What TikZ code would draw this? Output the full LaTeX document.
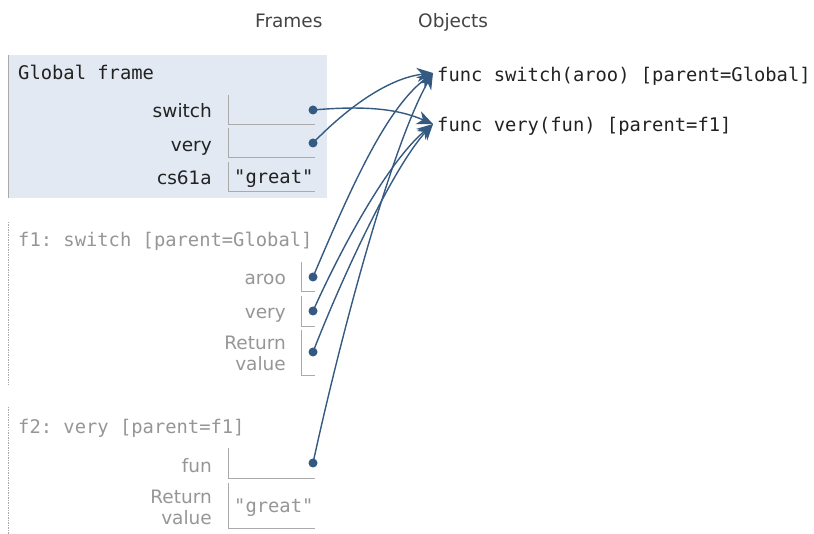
\documentclass[tikz,border=0pt]{standalone}
\usepackage{fontspec}
\setmainfont{DejaVu Sans}
\setmonofont{DejaVu Sans Mono}
\usetikzlibrary{arrows.meta}
\definecolor{gfill}{RGB}{226,233,243}
\definecolor{lgray}{RGB}{170,170,170}
\definecolor{tgray}{RGB}{150,150,150}
\definecolor{ptr}{RGB}{52,90,130}
\definecolor{hdr}{RGB}{68,68,68}
\definecolor{dark}{RGB}{34,34,34}
\begin{document}
\begin{tikzpicture}[x=1pt,y=-1pt,
  lab/.style={font=\fontsize{18.5}{20}\selectfont, anchor=base east, inner sep=0pt, text=dark},
  glab/.style={lab, text=tgray},
  code/.style={font=\ttfamily\fontsize{18.8}{20}\selectfont, anchor=base west, inner sep=0pt, text=dark},
  gcode/.style={code, text=tgray},
  hdrtext/.style={font=\fontsize{18.5}{20}\selectfont, anchor=base west, inner sep=0pt, text=hdr},
  vbox/.style={draw=lgray, line width=1pt},
  border/.style={draw=lgray, line width=0.8pt, dash pattern=on 1.5pt off 1pt},
  ptrline/.style={draw=ptr, line width=1.4pt, -{Stealth[length=16pt,width=14pt,inset=5pt]}},
  dot/.style={fill=ptr}
]
\useasboundingbox (0,0) rectangle (814,534);

% headers
\node[hdrtext] (hframes) at (255,28) {Frames};
\node[hdrtext] (hobjects) at (418,28) {Objects};

% Global frame
\fill[gfill] (8,55) rectangle (327,198);
\draw[lgray, line width=0.8pt] (8,55) -- (8,198);
\node[code] (gtitle) at (18,80) {Global frame};
\node[lab] (gswitch) at (212,118) {switch};
\node[lab] (gvery) at (212,152) {very};
\node[lab] (gcs) at (212,185) {cs61a};
\draw[vbox] (228,95) |- (315,125);
\draw[vbox] (228,128) |- (315,158);
\draw[vbox] (228,162) |- (315,192);
\node[code] (ggreat) at (234,184) {"great"};

% f1 frame
\draw[border] (8,222) -- (8,385);
\node[gcode] (f1title) at (18,247) {f1: switch [parent=Global]};
\node[glab] (f1aroo) at (286,285) {aroo};
\node[glab] (f1very) at (286,319) {very};
\node[glab] (f1ret1) at (286,350) {Return};
\node[glab] (f1ret2) at (286,371) {value};
\draw[vbox] (301,262) |- (315,292);
\draw[vbox] (301,296) |- (315,327);
\draw[vbox] (301,330) |- (315,376);

% f2 frame
\draw[border] (8,407) -- (8,534);
\node[gcode] (f2title) at (18,433) {f2: very [parent=f1]};
\node[glab] (f2fun) at (212,472) {fun};
\node[glab] (f2ret1) at (212,503) {Return};
\node[glab] (f2ret2) at (212,524) {value};
\draw[vbox] (228,448) |- (315,478);
\draw[vbox] (228,483) |- (315,528);
\node[gcode] (f2great) at (234,512) {"great"};

% objects
\node[code] (oswitch) at (437,82) {func switch(aroo) [parent=Global]};
\node[code] (overy) at (437,132) {func very(fun) [parent=f1]};
\coordinate (tsw) at ([shift={(-4,-9)}]oswitch.base west);
\coordinate (tvy) at ([shift={(-4,-8)}]overy.base west);

% pointer origins
\coordinate (dgsw) at (313,110);
\coordinate (dgvy) at (313,143);
\coordinate (daroo) at (313,277);
\coordinate (dfvy) at (313,311);
\coordinate (dret) at (313,352);
\coordinate (dfun) at (313,463);

% connectors
\draw[ptrline] (dgsw) .. controls (370,105) and (400,110) .. (tvy);
\draw[ptrline] (dgvy) .. controls (350,105) and (390,78) .. (tsw);
\draw[ptrline] (daroo) .. controls (350,190) and (385,110) .. (tsw);
\draw[ptrline] (dfvy) .. controls (345,240) and (390,160) .. (tvy);
\draw[ptrline] (dret) .. controls (345,270) and (395,165) .. (tvy);
\draw[ptrline] (dfun) .. controls (342,330) and (392,145) .. (tsw);

\foreach \d in {dgsw,dgvy,daroo,dfvy,dret,dfun} \fill[dot] (\d) circle[radius=4.5pt];
\end{tikzpicture}
\end{document}
